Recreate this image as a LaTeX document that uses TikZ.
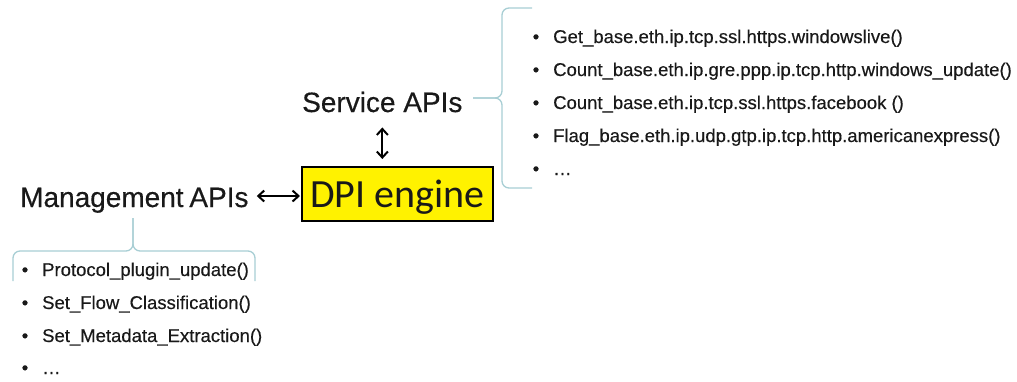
\documentclass[tikz,border=0pt]{standalone}
\usepackage{fontspec}
\setmainfont{Liberation Sans}[FakeBold=0.4]
\newfontfamily\calfont{Carlito}
\usetikzlibrary{arrows.meta}
\definecolor{bracecol}{RGB}{168,206,212}
\definecolor{txt}{RGB}{25,25,25}
\begin{document}
\begin{tikzpicture}[x=1pt,y=-1pt,
  every node/.style={inner sep=0pt, text=txt},
  big/.style={font=\fontsize{28}{30}\selectfont, anchor=base west},
  item/.style={font=\fontsize{18.5}{20}\selectfont, anchor=base west},
  bul/.style={font=\fontsize{18.5}{20}\selectfont, anchor=base},
  brace/.style={draw=bracecol, line width=1.3pt, rounded corners=7pt},
  arr/.style={line width=2pt, {Straight Barb[length=6pt,width=11pt]}-{Straight Barb[length=6pt,width=11pt]}},
]
\useasboundingbox (0,0) rectangle (1017,381);
\node[draw=black, line width=2pt, fill=yellow, minimum width=191pt, minimum height=54pt,
      text height=27pt, text depth=0pt,
      font=\calfont\fontsize{40}{44}\selectfont] (dpi) at (397.5,194) {DPI engine};
\node[big] (svc) at (302,112) {Service APIs};
\node[big, text height=22pt, text depth=0pt] (mgmt) at (20,207) {Management\hspace{-2pt} APIs};
\draw[arr, shorten <=15pt, shorten >=7pt] (svc.south) -- (svc.south |- dpi.north);
\draw[arr, shorten <=8pt, shorten >=1pt] (mgmt.east) -- (dpi.west |- mgmt.east);
% right brace
\draw[brace] (532,8) -- (502,8) -- (502,98) -- (473,98);
\draw[brace] (473,98) -- (502,98) -- (502,188) -- (532,188);
% left brace
\draw[brace] (13,281) -- (13,251) -- (133,251) -- (133,218);
\draw[brace] (133,218) -- (133,251) -- (255,251) -- (255,281);
% service list
\node[bul] (rb1) at (536,43) {•};
\node[item] (r1) at (553,43) {Get\_base.eth.ip.tcp.ssl.https.windowslive()};
\node[bul] (rb2) at (536,76) {•};
\node[item] (r2) at (553,76) {Count\_base.eth.ip.gre.ppp.ip.tcp.http.windows\_update()};
\node[bul] (rb3) at (536,109) {•};
\node[item] (r3) at (553,109) {Count\_base.eth.ip.tcp.ssl.https.facebook ()};
\node[bul] (rb4) at (536,142) {•};
\node[item] (r4) at (553,142) {Flag\_base.eth.ip.udp.gtp.ip.tcp.http.americanexpress()};
\node[bul] (rb5) at (536,175) {•};
\node[item] (r5) at (553,175) {…};
% management list
\node[bul] (lb1) at (25,276) {•};
\node[item] (l1) at (42,276) {Protocol\_plugin\_update()};
\node[bul] (lb2) at (25,309) {•};
\node[item] (l2) at (42,309) {Set\_Flow\_Classification()};
\node[bul] (lb3) at (25,342) {•};
\node[item] (l3) at (42,342) {Set\_Metadata\_Extraction()};
\node[bul] (lb4) at (25,374) {•};
\node[item] (l4) at (42,374) {…};
\end{tikzpicture}
\end{document}
